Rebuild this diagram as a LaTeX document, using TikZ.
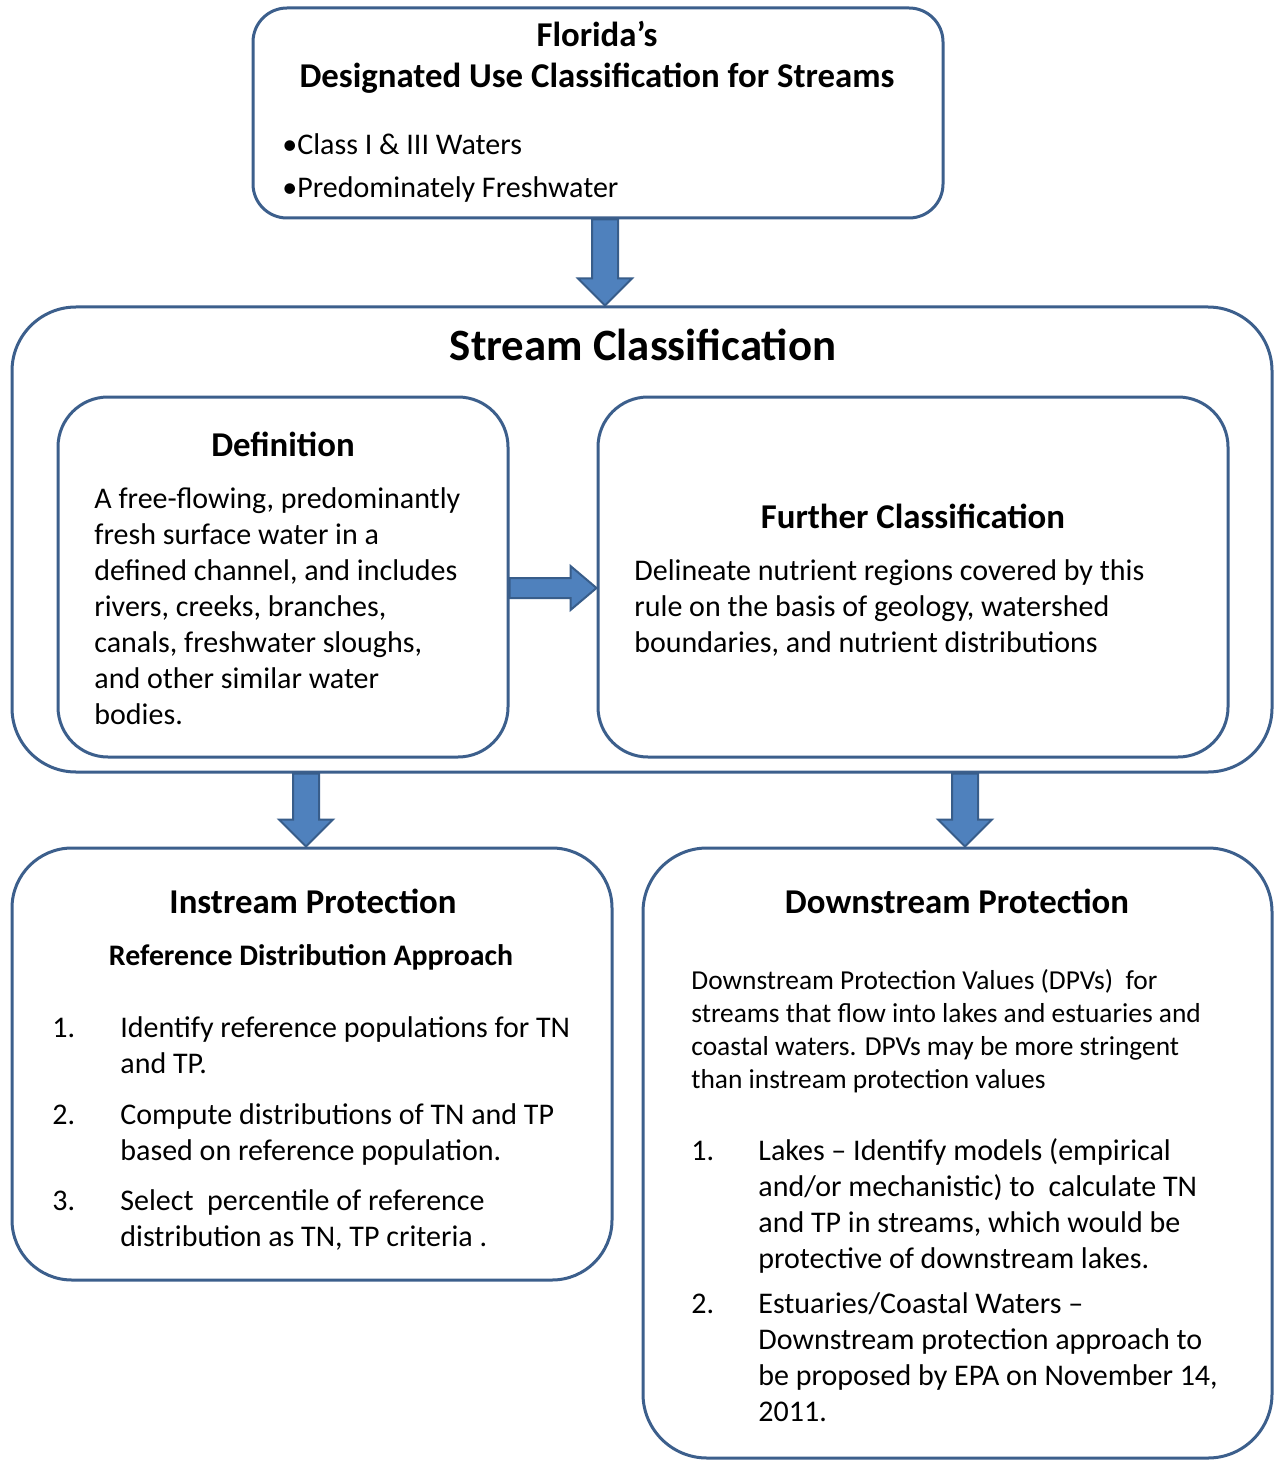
\documentclass[tikz,border=0pt]{standalone}
\usepackage{fontspec}
\setmainfont{Carlito}
\usetikzlibrary{calc}
\definecolor{bordc}{RGB}{60,95,140}
\definecolor{arrf}{RGB}{79,129,189}
\definecolor{arrb}{RGB}{56,93,138}
\newcommand\mylines[1]{\begin{tabular}[t]{@{}l@{}}#1\end{tabular}}
\tikzset{
  box/.style={draw=bordc, line width=1.5pt, rounded corners=#1, inner sep=0pt},
  box/.default=20pt,
  blk/.style={fill=arrf, draw=arrb, line width=1pt, line join=miter},
  txt/.style={font=\fontsize{15}{18}\selectfont, inner sep=0pt, anchor=base west},
  small/.style={font=\fontsize{13.7}{16.5}\selectfont, inner sep=0pt, anchor=base west},
  ttl/.style={font=\bfseries\fontsize{17.4}{20}\selectfont, inner sep=0pt, anchor=base},
  bigttl/.style={font=\bfseries\fontsize{22.4}{26}\selectfont, inner sep=0pt, anchor=base},
  subttl/.style={font=\bfseries\fontsize{14.9}{18}\selectfont, inner sep=0pt, anchor=base},
}
\newcommand\blkdown[2]{%
  \draw[blk] ($(#1)+(-13,0)$) -- ($(#2)+(-13,-27)$) -- ($(#2)+(-27,-27)$) -- (#2)
    -- ($(#2)+(27,-27)$) -- ($(#2)+(13,-27)$) -- ($(#1)+(13,0)$) -- cycle;}
\begin{document}
\begin{tikzpicture}[x=0.5pt,y=-0.5pt]
\useasboundingbox[fill=white] (0,0) rectangle (1275,1460);

% boxes
\node[box=17pt, minimum width=345pt, minimum height=105pt] (flo) at (598,113) {};
\node[box=32pt, minimum width=630pt, minimum height=232.5pt] (sc) at (642,539.5) {};
\node[box=25pt, minimum width=225pt, minimum height=180pt] (def) at (283,577) {};
\node[box=25pt, minimum width=315pt, minimum height=180pt] (fc) at (913,577) {};
\node[box=30pt, minimum width=300pt, minimum height=216pt] (ip) at (312,1064) {};
\node[box=32pt, minimum width=314.5pt, minimum height=305pt] (dp) at (957.5,1153) {};

% arrows
\coordinate (a1s) at ($(flo.south)+(7,0)$);
\coordinate (a1t) at (a1s |- sc.north);
\blkdown{a1s}{a1t}
\coordinate (a2t) at ($(ip.north)+(-6,0)$);
\coordinate (a2s) at (a2t |- sc.south);
\blkdown{a2s}{a2t}
\coordinate (a3t) at ($(dp.north)+(7.5,0)$);
\coordinate (a3s) at (a3t |- sc.south);
\blkdown{a3s}{a3t}
\coordinate (a4s) at ($(def.east)+(0,11)$);
\coordinate (a4t) at ($(fc.west)+(0,11)$);
\draw[blk] ($(a4s)+(0,-10)$) -- ($(a4t)+(-26,-10)$) -- ($(a4t)+(-26,-22)$) -- (a4t)
  -- ($(a4t)+(-26,22)$) -- ($(a4t)+(-26,10)$) -- ($(a4s)+(0,10)$) -- cycle;

% top box text
\node[ttl] (t1) at (597,47) {Florida’s};
\node[ttl] (t2) at (597,88) {Designated Use Classification for Streams};
\node[txt] (b1) at (282,155) {•Class I \& III Waters};
\node[txt] (b2) at (282,198) {•Predominately Freshwater};

% stream classification
\node[bigttl] (sct) at (643,360) {Stream Classification};
\node[ttl] (dt) at (283,456) {Definition};
\node[txt] (dtx) at (94,508) {\mylines{A free-flowing, predominantly\\fresh surface water in a\\defined channel, and includes\\rivers, creeks, branches,\\canals, freshwater sloughs,\\and other similar water\\bodies.}};
\node[ttl] (fct) at (913,528) {Further Classification};
\node[txt] (fctx) at (634,580) {\mylines{Delineate nutrient regions covered by this\\rule on the basis of geology, watershed\\boundaries, and nutrient distributions}};

% instream
\node[ttl] (ipt) at (313,913) {Instream Protection};
\node[subttl] (ips) at (311,965) {Reference Distribution Approach};
\node[txt] (ipl) at (52,1037) {\begin{tabular}[t]{@{}p{34pt}@{}l@{}}
1. & Identify reference populations for TN\\
   & and TP.\\[7.5pt]
2. & Compute distributions of TN and TP\\
   & based on reference population.\\[7pt]
3. & Select\ \ percentile of reference\\
   & distribution as TN, TP criteria .
\end{tabular}};

% downstream
\node[ttl] (dpt) at (957,913) {Downstream Protection};
\node[small] (dpx) at (691,989) {\mylines{Downstream Protection Values (DPVs)\ \ for\\streams that flow into lakes and estuaries and\\coastal waters. DPVs may be more stringent\\than instream protection values}};
\node[txt] (dpl) at (691,1160) {\begin{tabular}[t]{@{}p{33.5pt}@{}l@{}}
1. & Lakes -- Identify models (empirical\\
   & and/or mechanistic) to\ \ calculate TN\\
   & and TP in streams, which would be\\
   & protective of downstream lakes.\\[4.5pt]
2. & Estuaries/Coastal Waters --\\
   & Downstream protection approach to\\
   & be proposed by EPA on November 14,\\
   & 2011.
\end{tabular}};
\end{tikzpicture}
\end{document}
